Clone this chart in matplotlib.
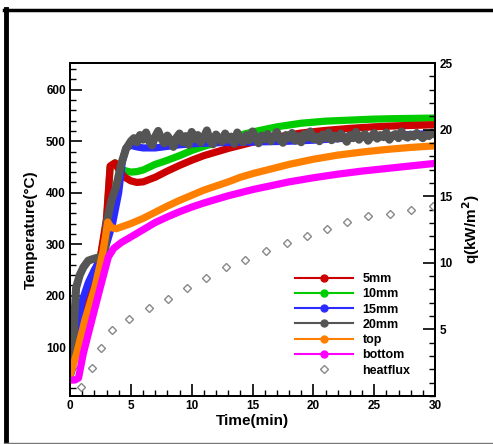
import matplotlib
matplotlib.use('Agg')
import matplotlib.pyplot as plt
from matplotlib.lines import Line2D
from matplotlib.ticker import MultipleLocator
import numpy as np

plt.rcParams['font.family'] = ['Liberation Sans', 'DejaVu Sans']
plt.rcParams['font.weight'] = 'bold'

# 5mm
t_5mm = [0, 0.5, 1.0, 1.5, 2.0, 2.5, 3.0, 3.3, 3.7, 4.0, 4.5, 5.0, 5.5, 6.0, 7, 8, 9, 10, 11, 12, 13, 14, 15, 17, 19, 21, 23, 25, 27, 30]
T_5mm = [45, 100, 175, 215, 245, 275, 350, 452, 458, 445, 430, 423, 420, 421, 430, 442, 453, 463, 472, 479, 486, 492, 498, 508, 516, 521, 525, 528, 530, 532]

# 10mm
t_10mm = [0, 0.5, 1.0, 1.5, 2.0, 2.5, 3.0, 3.3, 3.7, 4.0, 4.5, 5.0, 5.5, 6, 7, 8, 9, 10, 11, 12, 13, 14, 15, 17, 19, 21, 23, 25, 27, 30]
T_10mm = [45, 100, 175, 215, 245, 275, 340, 450, 458, 450, 443, 440, 441, 444, 455, 463, 472, 482, 490, 497, 505, 512, 518, 528, 535, 539, 541, 543, 544, 545]

# 15mm
t_15mm = [0, 0.3, 0.6, 1.0, 1.5, 2.0, 2.5, 3.0, 3.5, 4.0, 4.3, 4.6, 5.0, 5.5, 6, 7, 8, 9, 10, 12, 14, 16, 18, 20, 22, 25, 28, 30]
T_15mm = [45, 80, 140, 190, 225, 250, 270, 300, 340, 400, 460, 487, 492, 489, 487, 487, 490, 493, 495, 497, 498, 499, 500, 502, 505, 509, 513, 515]

# 20mm (noisy plateau)
t_20mm_rise = [0, 0.2, 0.35, 0.5, 0.8, 1.1, 1.5, 2.0, 2.5, 2.9, 3.0, 3.4, 3.8, 4.2, 4.6, 5.0]
T_20mm_rise = [45, 60, 150, 215, 240, 255, 268, 272, 275, 285, 340, 385, 412, 455, 485, 500]
T_20mm_plateau = [506, 498, 512, 503, 517, 500, 492, 509, 520, 505,
                  496, 511, 502, 489, 507, 515, 498, 510, 493, 518,
                  504, 512, 497, 508, 521, 501, 494, 513, 506, 499,
                  515, 503, 509, 495, 517, 505, 498, 512, 502, 519,
                  507, 496, 511, 504, 514, 500, 509, 518, 503, 497,
                  512, 506, 516, 501, 510, 498, 514, 507, 519, 504,
                  509, 500, 513, 506, 517, 502, 511, 505, 515, 508,
                  499, 512, 506, 518, 503, 510, 514, 501, 509, 516,
                  505, 512, 508, 517, 503, 511, 514, 506, 519, 510,
                  507, 513, 509, 516, 511, 506, 514, 510, 517, 513]
t_20mm_plateau = np.linspace(5.25, 30, len(T_20mm_plateau))

# top
t_top = [0, 0.55, 1.23, 2.05, 2.68, 2.95, 3.1, 3.4, 3.8, 5, 6, 7, 8, 9, 10, 11, 12, 13, 14, 15, 16, 17, 18, 19, 20, 22, 24, 26, 28, 30]
T_top = [45, 88, 153, 217, 282, 320, 343, 332, 330, 340, 350, 362, 374, 385, 395, 405, 413, 421, 430, 437, 443, 449, 455, 460, 465, 473, 479, 484, 488, 491]

# bottom
t_bottom = [0, 0.4, 0.7, 1.1, 1.8, 2.5, 3.15, 3.6, 4.2, 5, 6, 7, 8, 9, 10, 11, 12, 13, 14, 15, 16, 17, 18, 19, 20, 22, 24, 26, 28, 30]
T_bottom = [36, 36, 40, 88, 153, 217, 275, 292, 303, 314, 328, 342, 353, 363, 372, 380, 387, 394, 400, 406, 411, 416, 421, 425, 429, 436, 442, 447, 452, 457]

# heat flux (right axis)
t_flux = [0.88, 1.84, 2.58, 3.45, 4.88, 6.52, 8.03, 9.6, 11.2, 12.8, 14.4, 16.1, 17.8, 19.5, 21.1, 22.8, 24.5, 26.3, 28.0, 29.8]
q_flux = [0.65, 2.1, 3.6, 4.95, 5.8, 6.6, 7.3, 8.1, 8.85, 9.65, 10.2, 10.9, 11.5, 12.0, 12.55, 13.05, 13.5, 13.7, 14.0, 14.3]

W, H = 493, 444
fig = plt.figure(figsize=(W / 100, H / 100), dpi=100, facecolor='white')
ax = fig.add_axes([70 / W, 1 - 396 / H, 365 / W, 333 / H])

lw = 5.2
ax.plot(t_10mm, T_10mm, color='#00cc00', lw=lw, solid_capstyle='round')
ax.plot(t_5mm, T_5mm, color='#cc0000', lw=lw, solid_capstyle='round')
ax.plot(t_15mm, T_15mm, color='#2b2bff', lw=lw, solid_capstyle='round')
ax.plot(list(t_20mm_rise) + list(t_20mm_plateau), T_20mm_rise + T_20mm_plateau,
        color='#555555', lw=5.8, solid_capstyle='round', solid_joinstyle='round')
ax.plot(t_top, T_top, color='#ff8000', lw=lw, solid_capstyle='round')
ax.plot(t_bottom, T_bottom, color='#ff00ff', lw=lw, solid_capstyle='round')

ax.set_xlim(0, 30)
ax.set_ylim(5, 652)
ax.xaxis.set_major_locator(MultipleLocator(5))
ax.xaxis.set_minor_locator(MultipleLocator(1))
ax.yaxis.set_major_locator(MultipleLocator(100))
ax.yaxis.set_minor_locator(MultipleLocator(20))
ax.set_yticks([100, 200, 300, 400, 500, 600])
ax.tick_params(which='major', direction='in', length=8.5, width=1.2, labelsize=8.5, pad=3)
ax.tick_params(which='minor', direction='in', length=4.3, width=1.0)
ax.tick_params(top=False, right=False, which='both')
for s in ax.spines.values():
    s.set_linewidth(1.4)
ax.set_xlabel('Time(min)', fontsize=11, fontweight='bold', labelpad=1)
ax.set_ylabel('Temperature(\u00b0C)', fontsize=11, fontweight='bold', labelpad=6)

ax2 = ax.twinx()
ax2.plot(t_flux, q_flux, linestyle='none', marker='D', markersize=4.4,
         markerfacecolor='white', markeredgecolor='#888888', markeredgewidth=1.0)
ax2.set_ylim(0, 25)
ax2.yaxis.set_major_locator(MultipleLocator(5))
ax2.yaxis.set_minor_locator(MultipleLocator(1))
ax2.set_yticks([5, 10, 15, 20, 25])
ax2.tick_params(which='major', direction='in', length=8.5, width=1.2, labelsize=8.5, pad=3)
ax2.tick_params(which='minor', direction='in', length=4.3, width=1.0)
for s in ax2.spines.values():
    s.set_linewidth(1.4)
ax2.set_ylabel('q(kW/m$^\\mathbf{2}$)', fontsize=11, fontweight='bold', rotation=90, labelpad=6)

handles = [
    Line2D([], [], color='#cc0000', lw=1.5, marker='o', markersize=5),
    Line2D([], [], color='#00cc00', lw=1.5, marker='o', markersize=5),
    Line2D([], [], color='#2b2bff', lw=1.5, marker='o', markersize=5),
    Line2D([], [], color='#555555', lw=1.5, marker='o', markersize=5),
    Line2D([], [], color='#ff8000', lw=1.5, marker='o', markersize=5),
    Line2D([], [], color='#ff00ff', lw=1.5, marker='o', markersize=5),
    Line2D([], [], linestyle='none', marker='D', markersize=4.4, markerfacecolor='white',
           markeredgecolor='#888888', markeredgewidth=1.0),
]
labels = ['5mm', '10mm', '15mm', '20mm', 'top', 'bottom', 'heatflux']
fig.legend(handles, labels, loc='upper left', bbox_to_anchor=(295 / W, 1 - 273 / H),
           frameon=False, prop={'weight': 'bold', 'size': 9},
           handlelength=4.6, handletextpad=0.8, labelspacing=0.26,
           borderpad=0, borderaxespad=0, markerfirst=True)

# outer frame
fig.add_artist(Line2D([5.5 / W, 5.5 / W], [1 - 9 / H, 1 - 442 / H], color='black', lw=3.5,
                      transform=fig.transFigure))
fig.add_artist(Line2D([4 / W, 1.0], [1 - 10 / H, 1 - 10 / H], color='black', lw=2.5,
                      transform=fig.transFigure))
fig.add_artist(Line2D([4 / W, 1.0], [1 - 442.5 / H, 1 - 442.5 / H], color='#777777', lw=1.0,
                      transform=fig.transFigure))

fig.savefig('out.png', dpi=100, facecolor='white')
